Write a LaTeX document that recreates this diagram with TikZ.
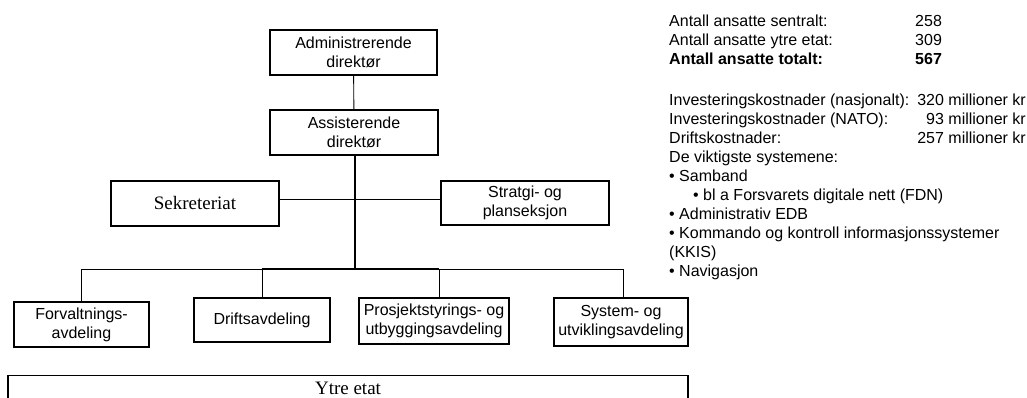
\documentclass[tikz,border=0pt]{standalone}
\usepackage{fontspec}
\setmainfont{Liberation Serif}
\setsansfont{Liberation Sans}
\begin{document}
\begin{tikzpicture}[x=1pt,y=-1pt,
  box/.style={draw, line width=1.1pt, inner sep=0pt, align=center,
    font=\sffamily\fontsize{16}{19}\selectfont},
  serifbox/.style={box, font=\rmfamily\fontsize{19}{22}\selectfont},
  conn/.style={line width=0.9pt},
  trunk/.style={line width=1.8pt},
  txt/.style={inner sep=0pt, font=\sffamily\fontsize{16}{19}\selectfont},
  txtl/.style={txt, anchor=base west},
  txtr/.style={txt, anchor=base east},
]
\useasboundingbox (0,0) rectangle (1027,398);

% management
\node[box, minimum width=167, minimum height=45] (adm) at (353.5,52.5) {Administrerende\\direktør};
\node[box, minimum width=168, minimum height=45] (ass) at (354,132.5) {Assisterende\\direktør};

% staff units
\node[serifbox, minimum width=168, minimum height=45] (sek) at (195,203.5) {Sekreteriat};
\node[box, minimum width=168, minimum height=44] (str) at (525,203) {Stratgi- og\\planseksjon};

% departments
\node[box, minimum width=135, minimum height=45] (forv) at (81.5,324.5) {Forvaltnings-\\avdeling};
\node[box, minimum width=136, minimum height=44] (drift) at (262,320) {Driftsavdeling};
\node[box, minimum width=150, minimum height=46] (prosj) at (434,321) {Prosjektstyrings- og\\utbyggingsavdeling};
\node[box, minimum width=134, minimum height=48] (sys) at (621,322) {System- og\\utviklingsavdeling};

% outer agency, running off the lower edge
\node[draw, line width=1.1pt, inner sep=0pt, minimum width=680, minimum height=46, anchor=north] (ytre) at (348,375) {};
\node[inner sep=0pt, font=\rmfamily\fontsize{19}{22}\selectfont] (ytretxt) at (348,388.5) {Ytre etat};

% connectors
\coordinate (tee) at (355,199);
\coordinate (bus) at (355,269);
\draw[conn] (adm) -- (ass);
\draw[trunk] (ass.south -| bus) -- (bus);
\draw[conn] (sek.east |- tee) -- (str.west |- tee);
\draw[conn] (forv.north) |- (drift.north |- bus) -- (drift.north);
\draw[trunk] (drift.north |- bus) -- ([xshift=5pt]prosj.north |- bus);
\draw[conn] ([xshift=5pt]prosj.north) -- ([xshift=5pt]prosj.north |- bus) -| ([xshift=2pt]sys.north);

% key figures
\node[txtl] (s1) at (669,27) {Antall ansatte sentralt:};
\node[txtl] (v1) at (915,27) {258};
\node[txtl] (s2) at (669,46) {Antall ansatte ytre etat:};
\node[txtl] (v2) at (915,46) {309};
\node[txtl, font=\sffamily\bfseries\fontsize{16}{19}\selectfont] (s3) at (669,65) {Antall ansatte totalt:};
\node[txtl, font=\sffamily\bfseries\fontsize{16}{19}\selectfont] (v3) at (915,65) {567};

\node[txtl] (c1) at (669,106) {Investeringskostnader (nasjonalt):};
\node[txtr] (k1) at (1026,106) {320 millioner kr};
\node[txtl] (c2) at (669,124.9) {Investeringskostnader (NATO):};
\node[txtr] (k2) at (1026,124.9) {93 millioner kr};
\node[txtl] (c3) at (669,143.8) {Driftskostnader:};
\node[txtr] (k3) at (1026,143.8) {257 millioner kr};
\node[txtl] (l1) at (669,162.7) {De viktigste systemene:};
\node[txtl] (l2) at (669,181.6) {• Samband};
\node[txtl] (l3) at (693,200.5) {• bl a Forsvarets digitale nett (FDN)};
\node[txtl] (l4) at (669,219.4) {• Administrativ EDB};
\node[txtl] (l5) at (669,238.3) {• Kommando og kontroll informasjonssystemer};
\node[txtl] (l6) at (669,257.2) {(KKIS)};
\node[txtl] (l7) at (669,276.1) {• Navigasjon};
\end{tikzpicture}
\end{document}
